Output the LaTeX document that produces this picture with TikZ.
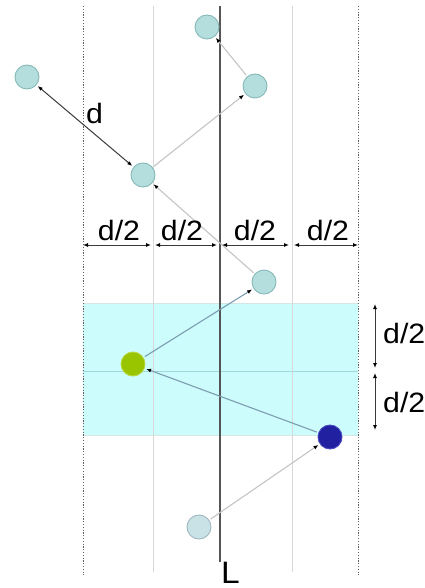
\documentclass[tikz,border=0pt]{standalone}
\usepackage{fontspec}
\setmainfont{Liberation Sans}
\usetikzlibrary{arrows.meta}
\definecolor{ballfill}{HTML}{B4DEDE}
\definecolor{ballline}{HTML}{86B8B8}
\definecolor{palefill}{HTML}{C9E2E6}
\definecolor{paleline}{HTML}{A0B8C0}
\definecolor{greenfill}{HTML}{99C400}
\definecolor{greenline}{HTML}{B8D840}
\definecolor{bluefill}{HTML}{2020A0}
\definecolor{blueline}{HTML}{4848C0}
\definecolor{zonefill}{HTML}{CCFCFC}
\definecolor{zoneline}{HTML}{D6E6E6}
\definecolor{midline}{HTML}{9ED8DC}
\definecolor{gridline}{HTML}{D8D8D8}
\definecolor{dotline}{HTML}{606060}
\definecolor{mainline}{HTML}{555555}
\definecolor{lightconn}{HTML}{C4C4C4}
\definecolor{blueconn}{HTML}{7C9CB0}
\definecolor{darkconn}{HTML}{3A3A3A}
\begin{document}
\begin{tikzpicture}[x=1pt,y=-1pt,
  ball/.style={circle,minimum size=24pt,inner sep=0pt,line width=0.9pt,draw=ballline,fill=ballfill,outer sep=2pt},
  lbl/.style={font=\fontsize{28}{30}\selectfont,inner sep=0pt,xscale=1.08},
  tipend/.style={-{Latex[length=5pt,width=4pt,black]}},
  dim/.style={{Latex[length=5pt,width=4pt,black]}-{Latex[length=5pt,width=4pt,black]},line width=1pt,draw=darkconn},
  dotv/.style={draw=dotline,line width=1pt,dash pattern=on 1.2pt off 1.6pt},
  gridv/.style={draw=gridline,line width=0.9pt},
  conn/.style={tipend,line width=1.1pt}
]
\useasboundingbox (0,0) rectangle (424,588);
% shaded zone
\fill[zonefill] (83,303) rectangle (358,435);
\draw[zoneline,line width=0.8pt] (83,303) -- (358,303);
\draw[zoneline,line width=0.6pt] (83,435) -- (358,435);
\draw[midline,line width=0.8pt] (83,371) -- (358,371);
% vertical lines
\coordinate (v1t) at (83,6);  \coordinate (v1b) at (83,575);
\coordinate (v2t) at (153,6); \coordinate (v2b) at (153,572);
\coordinate (v4t) at (292,6); \coordinate (v4b) at (292,572);
\coordinate (v5t) at (358,6); \coordinate (v5b) at (358,575);
\coordinate (Lt) at (220,6);  \coordinate (Lb) at (220,562);
\draw[dotv] (v1t) -- (v1b);
\draw[dotv] (v5t) -- (v5b);
\draw[gridv] (v2t) -- (v2b);
\draw[gridv] (v4t) -- (v4b);
\draw[mainline,line width=1.2pt] (Lt) -- (Lb);
\node[lbl,font=\fontsize{31}{33}\selectfont,anchor=base west] (Llab) at (221,583) {L};
% balls
\node[ball] (A) at (207,27) {};
\node[ball] (B) at (255,86) {};
\node[ball] (C) at (27,77) {};
\node[ball] (D) at (143,175) {};
\node[ball] (E) at (264,282) {};
\node[ball,draw=greenline,fill=greenfill] (F) at (133,364) {};
\node[ball,draw=blueline,fill=bluefill] (G) at (330,437) {};
\node[ball,draw=paleline,fill=palefill] (H) at (199,527) {};
% connectors
\draw[conn,draw=lightconn] (H) -- (G);
\draw[conn,draw=blueconn] (G) -- (F);
\draw[conn,draw=blueconn] (F) -- (E);
\draw[conn,draw=lightconn] (E) -- (D);
\draw[conn,draw=lightconn] (D) -- (B);
\draw[conn,draw=lightconn] (B) -- (A);
\draw[dim] (C) -- (D);
\node[lbl,anchor=base west] (dlab) at (86,124) {d};
% horizontal dimensions
\coordinate (h1) at (83,245);  \coordinate (h2) at (151,245);
\coordinate (h3) at (155,245); \coordinate (h4) at (217,245);
\coordinate (h5) at (222,245); \coordinate (h6) at (289,245);
\coordinate (h7) at (294,245); \coordinate (h8) at (358,245);
\draw[dim] (h1) -- (h2);
\draw[dim] (h3) -- (h4);
\draw[dim] (h5) -- (h6);
\draw[dim] (h7) -- (h8);
\node[lbl,anchor=base] (hl1) at (119,240) {d/2};
\node[lbl,anchor=base] (hl2) at (182,240) {d/2};
\node[lbl,anchor=base] (hl3) at (255,240) {d/2};
\node[lbl,anchor=base] (hl4) at (328,240) {d/2};
% vertical dimensions
\coordinate (w1) at (375,304); \coordinate (w2) at (375,368);
\coordinate (w3) at (375,373); \coordinate (w4) at (375,430);
\draw[dim] (w1) -- (w2);
\draw[dim] (w3) -- (w4);
\node[lbl,anchor=base west] (vl1) at (383,343) {d/2};
\node[lbl,anchor=base west] (vl2) at (383,412) {d/2};
\end{tikzpicture}
\end{document}
